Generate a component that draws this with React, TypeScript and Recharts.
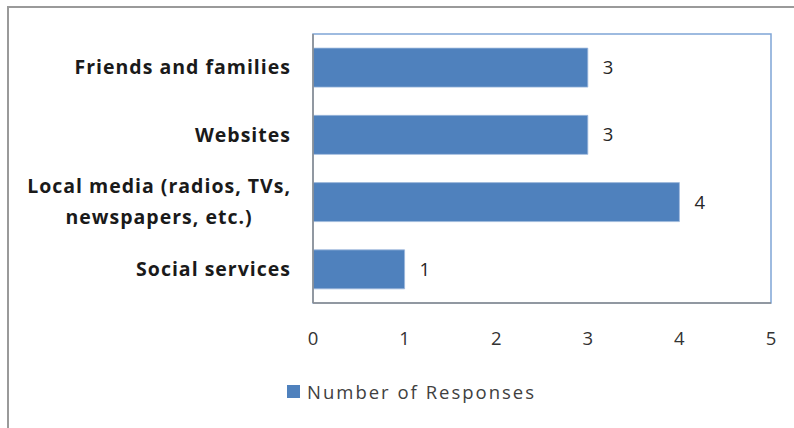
import React from 'react';
import { BarChart, Bar, XAxis, YAxis, Legend, LabelList, ReferenceArea } from 'recharts';

const categories = [
  'Friends and families',
  'Websites',
  'Local media (radios, TVs,\nnewspapers, etc.)',
  'Social services',
];
const responses = [3, 3, 4, 1];
const xTicks = [0, 1, 2, 3, 4, 5];
const seriesName = 'Number of Responses';

const data = categories.map((c, i) => ({ category: c, value: responses[i] }));

const FONT = '"Open Sans", Lato, sans-serif';
const BAR_COLOR = '#4F81BD';
const LABEL_FONT_SIZE = 19.5;
const LABEL_SPACING = 1;

let ctx: CanvasRenderingContext2D | null = null;
const measure = (text: string, font: string) => {
  if (!ctx) ctx = document.createElement('canvas').getContext('2d');
  if (!ctx) return text.length * 10;
  ctx.font = font;
  return ctx.measureText(text).width + text.length * LABEL_SPACING;
};

const YTick = (props: any) => {
  const { x, y, payload } = props;
  const lines: string[] = String(payload.value).split('\n');
  const font = `bold ${LABEL_FONT_SIZE}px "Open Sans"`;
  const common = {
    fontFamily: FONT,
    fontWeight: 'bold' as const,
    fontSize: LABEL_FONT_SIZE,
    fill: '#1a1a1a',
    style: { letterSpacing: LABEL_SPACING },
  };
  if (lines.length === 1) {
    return (
      <text x={x} y={y} dy="0.35em" textAnchor="end" {...common}>
        {lines[0]}
      </text>
    );
  }
  const widths = lines.map((l) => measure(l, font));
  const maxW = Math.max(...widths);
  const cx = x - maxW / 2;
  const lh = 31;
  const start = y - ((lines.length - 1) * lh) / 2;
  return (
    <g>
      {lines.map((l, i) => (
        <text key={i} x={cx} y={start + i * lh} dy="0.35em" textAnchor="middle" {...common}>
          {l}
        </text>
      ))}
    </g>
  );
};

const LegendContent = () => (
  <div style={{ display: 'flex', alignItems: 'center', fontFamily: FONT, fontSize: 18.5, color: '#404040' }}>
    <span style={{ display: 'inline-block', width: 13, height: 13, background: BAR_COLOR, marginRight: 7 }} />
    <span style={{ letterSpacing: 2 }}>{seriesName}</span>
  </div>
);

export default function App() {
  return (
    <div style={{ position: 'absolute', left: 0, top: 0, width: 794, height: 428, background: '#fff', overflow: 'hidden' }}>
      <div style={{ position: 'absolute', left: 7, top: 6, width: 820, height: 460, borderLeft: '2px solid #9a9a9a', borderTop: '2px solid #9a9a9a' }} />
      <div style={{ position: 'absolute', left: 0, top: 0 }}>
        <BarChart
          width={794}
          height={428}
          data={data}
          layout="vertical"
          margin={{ top: 34, right: 23, bottom: 36, left: 0 }}
          barCategoryGap="21%"
        >
          <ReferenceArea x1={0} x2={5} fill="none" stroke="#7FA5D6" strokeWidth={1.5} fillOpacity={0} />
          <XAxis
            type="number"
            domain={[0, 5]}
            ticks={xTicks}
            interval={0}
            tickLine={false}
            tickMargin={23}
            axisLine={{ stroke: '#8c8c8c', strokeWidth: 1.5 }}
            tick={{ fontFamily: FONT, fontSize: 18.5, fill: '#333' }}
            height={64}
          />
          <YAxis
            type="category"
            dataKey="category"
            width={313}
            tickLine={false}
            tickMargin={16}
            interval={0}
            axisLine={{ stroke: '#8c8c8c', strokeWidth: 1.5 }}
            tick={<YTick />}
          />
          <Legend
            verticalAlign="bottom"
            content={<LegendContent />}
            wrapperStyle={{ left: 287, bottom: 24, width: 320 }}
          />
          <Bar dataKey="value" name={seriesName} fill={BAR_COLOR} stroke="#9DB8DC" strokeWidth={0.8} isAnimationActive={false}>
            <LabelList dataKey="value" position="right" offset={15} style={{ fontFamily: FONT, fontSize: 18.5, fill: '#262626' }} />
          </Bar>
        </BarChart>
      </div>
    </div>
  );
}
